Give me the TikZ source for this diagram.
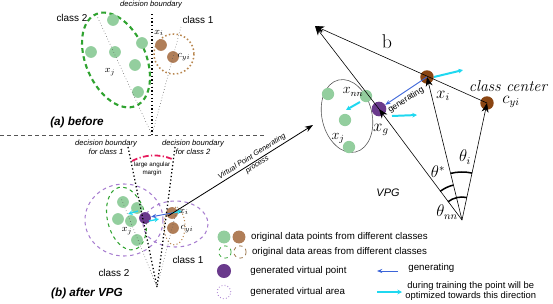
\documentclass[tikz,border=0pt]{standalone}
\usepackage{amsmath,amssymb}
\usepackage{fontspec}
\setsansfont{Liberation Sans}
\usepackage{tikz}
\usetikzlibrary{arrows.meta,positioning,calc}
\definecolor{ptgreen}{HTML}{93CE9E}
\definecolor{ptbrown}{HTML}{B07E58}
\definecolor{darkbrown}{HTML}{8A4512}
\definecolor{virtpurple}{HTML}{6A3A8C}
\definecolor{areagreen}{HTML}{2FA330}
\definecolor{areabrown}{HTML}{B8864E}
\definecolor{areapurple}{HTML}{A77DD0}
\definecolor{genblue}{HTML}{3B64D8}
\definecolor{optcyan}{HTML}{1FD8F0}
\definecolor{marginred}{HTML}{E6195B}
\definecolor{inkgray}{HTML}{555555}
\tikzset{
  greendot/.style={circle, fill=ptgreen, inner sep=0pt, minimum size=10pt},
  browndot/.style={circle, fill=ptbrown, inner sep=0pt, minimum size=10pt},
  centerdot/.style={circle, fill=darkbrown, inner sep=0pt, minimum size=11.5pt},
  virtdot/.style={circle, fill=virtpurple, inner sep=0pt, minimum size=10pt},
  ringdot/.style={circle, draw, dashed, line width=0.6pt, inner sep=0pt, minimum size=10.5pt},
  boundtext/.style={font=\sffamily\itshape\fontsize{6.5}{7.8}\selectfont, align=center, inner sep=1pt},
  vpgtext/.style={font=\sffamily\itshape\fontsize{6.3}{7}\selectfont, inner sep=1.5pt},
  classtext/.style={font=\sffamily\fontsize{8.5}{10}\selectfont, inner sep=1pt},
  legendtext/.style={font=\sffamily\fontsize{8.3}{9.2}\selectfont, anchor=west, inner sep=1pt, align=center},
  panelcap/.style={font=\sffamily\bfseries\itshape\fontsize{10}{12}\selectfont, inner sep=1pt},
  smalllabel/.style={inner sep=0.5pt, font=\fontsize{8.5}{10}\selectfont},
  biglabel/.style={inner sep=1pt, font=\fontsize{13.5}{15}\selectfont},
  gentip/.style={-{Stealth[length=4.5pt,width=3.5pt]}, genblue, line width=0.8pt},
  opttip/.style={-{Stealth[length=4pt,width=4pt]}, optcyan, line width=1.7pt},
  vecline/.style={-{Stealth[length=8pt,width=6pt]}, line width=0.5pt},
  anglearc/.style={line width=1.3pt},
  boundary/.style={dotted, line width=1.1pt},
  guide/.style={dotted, line width=0.5pt, inkgray}
}
\begin{document}
\begin{tikzpicture}[x=0.03cm, y=-0.03cm]
\useasboundingbox (0,0) rectangle (553,303);

% (a) before
\node[boundtext] (dbtop) at (151,5) {decision boundary};
\coordinate (atop) at (152,14);
\coordinate (aorig) at (152,135);
\coordinate (hleft) at (0,135);
\coordinate (hright) at (265,135);
\coordinate (aguide2) at (97,16);
\coordinate (aguide1) at (181,27);
\draw[dashed, inkgray, line width=0.6pt] (hleft) -- (hright);
\draw[boundary] (atop) -- (aorig);
\draw[areagreen, line width=1.8pt, dash pattern=on 4pt off 3pt, rotate around={23.5:(116,60)}] (116,60) ellipse (30 and 50);
\draw[areabrown, dotted, line width=1.3pt] (174,54) circle (20);
\foreach \p in {(113,20),(91,52),(115,52),(142,43),(135,65),(138,92)}
  \node[greendot] at \p {};
\node[browndot] (axi) at (161,45) {};
\node[browndot] (acy) at (173,57) {};
\draw[guide] (aorig) -- (aguide2);
\draw[guide] (aorig) -- (aguide1);
\node[smalllabel] (axjl) at (110,72) {$x_j$};
\node[smalllabel] (axil) at (159,33) {$x_i$};
\node[smalllabel] (acyl) at (184,57) {$c_{yi}$};
\node[classtext] (acls2) at (72,18) {class 2};
\node[classtext] (acls1) at (198,20) {class 1};
\node[panelcap] (capa) at (77,122) {(a) before};

% (b) after VPG
\node[boundtext] (db1) at (106,147) {decision boundary\\for class 1};
\node[boundtext] (db2) at (193,147) {decision boundary\\for class 2};
\coordinate (wl) at (128,147);
\coordinate (wr) at (175,147);
\coordinate (bapex) at (157,287);
\coordinate (bguide2) at (121,198);
\coordinate (bguide1) at (178,205);
\draw[areapurple, dashed, line width=0.9pt] (124,220) ellipse (39 and 36);
\draw[areapurple, dashed, line width=0.9pt] (175.5,224) ellipse (32.5 and 23);
\draw[areagreen, dashed, line width=0.9pt, rotate around={14:(126.5,218.5)}] (126.5,218.5) ellipse (19 and 32);
\draw[areabrown, dotted, line width=0.9pt] (174.5,226) ellipse (10.5 and 19);
\foreach \p in {(123,202),(137,208),(118,219),(131,221),(137,240)}
  \node[greendot] at \p {};
\node[browndot] (bxi) at (172,213) {};
\node[browndot] (bcy) at (173,228) {};
\node[virtdot] (bxg) at (145,218) {};
\draw[boundary] (wl) -- (bapex);
\draw[boundary] (wr) -- (bapex);
\draw[guide] (bapex) -- (bguide2);
\draw[guide] (bapex) -- (bguide1);
\draw[marginred, line width=1.5pt, dash pattern=on 5pt off 2pt on 1pt off 2pt] (132,161) .. controls (145,154) and (160,154) .. (172,159);
\node[boundtext, font=\sffamily\fontsize{5.3}{6.3}\selectfont] (marg) at (152,169) {large angular\\margin};
\coordinate (bo1s) at (138,211);
\coordinate (bo1e) at (128,214);
\coordinate (bo2s) at (149,221);
\coordinate (bo2e) at (159,219);
\coordinate (bo3e) at (182,211);
\draw[opttip, line width=1.1pt] (bo1s) -- (bo1e);
\draw[opttip, line width=1.1pt] (bo2s) -- (bo2e);
\draw[opttip, line width=1.1pt] (bxi.center) -- (bo3e);
\draw[gentip] (bxi.center) -- (bxg);
\node[smalllabel] (bxjl) at (127,231) {$x_j$};
\node[smalllabel] (bxil) at (184,212) {$x_i$};
\node[smalllabel] (bcyl) at (187,229) {$c_{yi}$};
\node[classtext] (bcls2) at (114,273) {class 2};
\node[classtext] (bcls1) at (188,260) {class 1};
\node[panelcap] (capb) at (87,293) {(b) after VPG};

% generating process
\coordinate (vpgs) at (168,216);
\coordinate (vpge) at (313,125);
\draw[-{Stealth[length=7pt,width=5pt]}, line width=0.7pt] (vpgs) -- node[sloped, above, pos=0.6, vpgtext] {Virtual Point Generating} node[sloped, below, pos=0.6, vpgtext] {process} (vpge);

% VPG geometry
\draw[inkgray, line width=0.5pt, rotate around={13.5:(347,116)}] (347,116) ellipse (25 and 37);
\foreach \p in {(328,94),(366,96),(345,120),(349,147)}
  \node[greendot, minimum size=10.5pt] at \p {};
\coordinate (apex) at (462,220);
\coordinate (btip) at (315,26);
\node[centerdot] (xi) at (427,77) {};
\node[centerdot] (cyi) at (487,103) {};
\node[virtdot, minimum size=12.5pt] (xg) at (379,109) {};
\draw[vecline] (cyi.center) -- (btip);
\draw[vecline] (xg.center) -- (btip);
\draw[vecline] (apex) -- (xg.center);
\draw[vecline] (apex) -- (xi.center);
\draw[vecline] (apex) -- (cyi.center);
\draw[anglearc] ($(apex)+(-127.4:23)$) arc (-127.4:-77.9:23);
\draw[anglearc] ($(apex)+(-127.4:36)$) arc (-127.4:-103.8:36);
\draw[anglearc] ($(apex)+(-103.8:48)$) arc (-103.8:-77.9:48);
\coordinate (o1e) at (463,70);
\coordinate (o2s) at (392,116);
\coordinate (o2e) at (417,115);
\coordinate (o3s) at (360,102);
\coordinate (o3e) at (346,110);
\draw[opttip] (xi.east) -- (o1e);
\draw[opttip] (o2s) -- (o2e);
\draw[opttip] (o3s) -- (o3e);
\draw[gentip] (xi.center) -- (xg);
\node[sloped, font=\sffamily\fontsize{7.3}{8}\selectfont, rotate=32, inner sep=0pt] (gen) at (406,100) {generating};
\node[inner sep=1pt, font=\fontsize{17}{19}\selectfont] (blab) at (387,42) {b};
\node[biglabel, font=\itshape\fontsize{13.5}{15}\selectfont] (cclab) at (508,86) {class center};
\node[biglabel] (cyil) at (511,102) {$c_{yi}$};
\node[biglabel] (xil) at (443,96) {$x_i$};
\node[biglabel] (xgl) at (381,130) {$x_g$};
\node[biglabel, font=\fontsize{12}{14}\selectfont] (xnnl) at (353,92) {$x_{nn}$};
\node[biglabel, font=\fontsize{12}{14}\selectfont] (xjl) at (338,138) {$x_j$};
\node[biglabel] (thi) at (465,157) {$\theta_i$};
\node[biglabel] (thstar) at (438,172) {$\theta^{*}$};
\node[biglabel] (thnn) at (447,212) {$\theta_{nn}$};
\node[font=\sffamily\itshape\fontsize{9.3}{11}\selectfont] (vpglab) at (388,193) {VPG};

% legend
\node[greendot, minimum size=11pt] (lgreen) at (224,237) {};
\node[browndot, minimum size=11pt] (lbrown) at (239,237) {};
\node[legendtext, right=3.5pt of lbrown] (lt1) {original data points from different classes};
\node[ringdot, draw=areagreen] (lgring) at (225,252) {};
\node[ringdot, draw=areabrown!80!black] (lbring) at (240,252) {};
\node[legendtext, right=3.5pt of lbring] (lt2) {original data areas from different classes};
\node[virtdot, minimum size=12pt] (lvirt) at (224,271) {};
\node[legendtext] (lt3) at (249,271) {generated virtual point};
\node[ringdot, dotted, draw=areapurple, line width=0.9pt, minimum size=11.5pt] (lvring) at (224,292) {};
\node[legendtext] (lt4) at (249,292) {generated virtual area};
\coordinate (lgs) at (398,271);
\coordinate (lge) at (377,271);
\coordinate (lcs) at (377,292);
\coordinate (lce) at (402,292);
\draw[gentip] (lgs) -- (lge);
\draw[opttip] (lcs) -- (lce);
\node[legendtext] (lt5) at (407,268) {generating};
\node[legendtext, font=\sffamily\fontsize{8}{8.4}\selectfont] (lt6) at (404,291) {during training the point will be\\optimized towards this direction};
\end{tikzpicture}
\end{document}
